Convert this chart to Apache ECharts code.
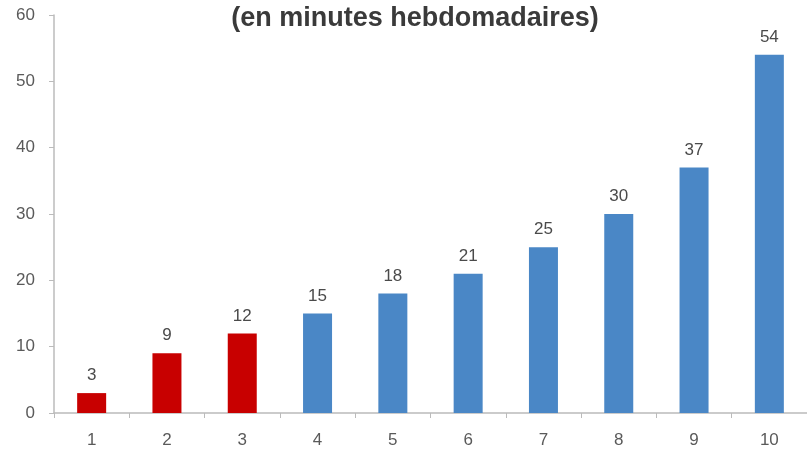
<!DOCTYPE html>
<html><head><meta charset="utf-8">
<script src="https://cdn.jsdelivr.net/npm/echarts@6/dist/echarts.min.js"></script>
<style>html,body{margin:0;padding:0;background:#fff}#c{width:807px;height:449px}</style>
</head><body><div id="c"></div>
<script>
const categories = ['1','2','3','4','5','6','7','8','9','10'];
const values = [3, 9, 12, 15, 18, 21, 25, 30, 37, 54];
const highlighted = [true, true, true, false, false, false, false, false, false, false];
const titleText = '(en minutes hebdomadaires)';

const chart = echarts.init(document.getElementById('c'));
chart.setOption({
  animation: false,
  title: {
    text: titleText, left: 410, top: 0, textAlign: 'center',
    textStyle: {fontFamily: 'Liberation Sans', fontSize: 27, fontWeight: 'bold', color: '#3a3a3a'}
  },
  grid: {left: 54, right: -4, top: 15, bottom: 36},
  xAxis: {
    type: 'category', data: categories,
    axisLine: {lineStyle: {color: '#bbb', width: 1.5}},
    axisTick: {show: true, alignWithLabel: false, length: 5, lineStyle: {color: '#bbb'}},
    axisLabel: {color: '#5a5a5a', fontSize: 17, fontFamily: 'Liberation Sans', margin: 19}
  },
  yAxis: {
    type: 'value', min: 0, max: 60, interval: 10,
    splitLine: {show: false},
    axisLine: {show: true, lineStyle: {color: '#bbb', width: 1.5}},
    axisTick: {show: true, length: 5, lineStyle: {color: '#bbb'}},
    axisLabel: {color: '#5a5a5a', fontSize: 17, fontFamily: 'Liberation Sans', margin: 19}
  },
  series: [{
    type: 'bar', barWidth: 29,
    data: values.map((v, i) => ({value: v, itemStyle: {color: highlighted[i] ? '#c80000' : '#4a87c6'}})),
    label: {show: true, position: 'top', distance: 9, color: '#4a4a4a', fontSize: 17, fontFamily: 'Liberation Sans'}
  }]
});
</script></body></html>
